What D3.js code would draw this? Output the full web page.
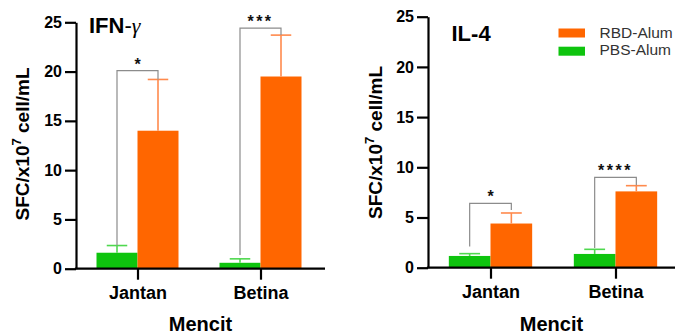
<!DOCTYPE html>
<html>
<head>
<meta charset="utf-8">
<script src="https://cdn.jsdelivr.net/npm/d3@7"></script>
<style>
  html, body { margin: 0; padding: 0; background: #fff; }
  svg { display: block; }
  text { font-family: "Liberation Sans", Arial, sans-serif; }
</style>
</head>
<body>
<svg id="chart" width="675" height="334"></svg>
<script>
// Groups and series
const categories = ["Jantan", "Betina"];
const seriesNames = ["PBS-Alum", "RBD-Alum"];
const yTicks = [0, 5, 10, 15, 20, 25];

// IFN-γ panel: means and upper error (mean + SD)
const ifnMean = { "PBS-Alum": [1.62, 0.6], "RBD-Alum": [14.0, 19.5] };
const ifnUpper = { "PBS-Alum": [2.35, 1.0], "RBD-Alum": [19.2, 23.7] };
// significance: [category, bracket value, left end, right end, label]
const ifnSig = [
  ["Jantan", 20.1, 2.35, 19.2, "*"],
  ["Betina", 24.4, 1.4, 23.7, "***"]
];

// IL-4 panel
const il4Mean = { "PBS-Alum": [1.17, 1.37], "RBD-Alum": [4.4, 7.6] };
const il4Upper = { "PBS-Alum": [1.4, 1.83], "RBD-Alum": [5.45, 8.17] };
const il4Sig = [
  ["Jantan", 6.4, 2.1, 5.75, "*"],
  ["Betina", 9.0, 1.95, 8.2, "****"]
];

const colors = { "PBS-Alum": "#0ec40e", "RBD-Alum": "#ff6600" };
const errColors = { "PBS-Alum": "#4fd84f", "RBD-Alum": "#ff8a4d" };

const svg = d3.select("#chart");

function panel(opts) {
  const { x0, xEnd, step, yBottom, yTop, mean, upper, sig, titleX, titleY, titleParts, labelX, labelY } = opts;
  const g = svg.append("g");

  const y = d3.scaleLinear().domain([0, 25]).range([yBottom, yTop]);
  const x = d3.scalePoint().domain(categories).range([x0, x0 + 2 * step]).padding(0.5);
  const barW = step / 3;
  const inner = d3.scaleBand().domain(seriesNames).range([-barW, barW]);

  // bars
  seriesNames.forEach(s => {
    categories.forEach((c, i) => {
      const v = mean[s][i];
      const bx = x(c) + inner(s);
      g.append("rect")
        .attr("x", bx).attr("width", inner.bandwidth())
        .attr("y", y(v)).attr("height", y(0) - y(v))
        .attr("fill", colors[s]);
      // upper error bar
      const cx = bx + inner.bandwidth() / 2;
      const u = upper[s][i];
      g.append("line").attr("x1", cx).attr("x2", cx)
        .attr("y1", y(v)).attr("y2", y(u))
        .attr("stroke", errColors[s]).attr("stroke-width", 1.6);
      g.append("line").attr("x1", cx - barW / 4).attr("x2", cx + barW / 4)
        .attr("y1", y(u)).attr("y2", y(u))
        .attr("stroke", errColors[s]).attr("stroke-width", 1.6);
    });
  });

  // significance brackets
  sig.forEach(([c, top, l, r, label]) => {
    const lx = x(c) + inner("PBS-Alum") + inner.bandwidth() / 2;
    const rx = x(c) + inner("RBD-Alum") + inner.bandwidth() / 2;
    g.append("path")
      .attr("d", `M${lx},${y(l)}V${y(top)}H${rx}V${y(r)}`)
      .attr("fill", "none").attr("stroke", "#8c8c8c").attr("stroke-width", 1.2);
    g.append("text")
      .attr("x", (lx + rx) / 2).attr("y", y(top) - 1)
      .attr("text-anchor", "middle")
      .attr("font-size", 16).attr("font-weight", "bold")
      .attr("letter-spacing", label.length > 1 ? 2.5 : 0)
      .attr("fill", "#111")
      .text(label);
  });

  // y axis
  const ya = g.append("g").attr("transform", `translate(${x0},0)`)
    .call(d3.axisLeft(y).tickValues(yTicks).tickSize(11).tickSizeOuter(0).tickPadding(3));
  ya.selectAll("path, line").attr("stroke", "#000").attr("stroke-width", 2.2);
  ya.selectAll("text").attr("font-size", 16).attr("font-weight", "bold")
    .attr("font-family", "Liberation Sans, Arial, sans-serif").attr("fill", "#000");

  // x axis
  const xa = g.append("g").attr("transform", `translate(0,${yBottom})`)
    .call(d3.axisBottom(x).tickSize(11).tickSizeOuter(0));
  xa.select(".domain").remove();
  xa.selectAll("line").attr("stroke", "#000").attr("stroke-width", 2.2);
  xa.selectAll("text").attr("font-size", 18).attr("font-weight", "bold")
    .attr("font-family", "Liberation Sans, Arial, sans-serif").attr("fill", "#000")
    .attr("dy", null).attr("y", 30.5);
  g.append("line").attr("x1", x0 - 1.1).attr("x2", xEnd)
    .attr("y1", yBottom).attr("y2", yBottom)
    .attr("stroke", "#000").attr("stroke-width", 2.2);

  // axis titles
  g.append("text")
    .attr("x", (x0 + xEnd) / 2).attr("y", 331)
    .attr("text-anchor", "middle").attr("font-size", 20).attr("font-weight", "bold")
    .text("Mencit");

  const yl = g.append("text")
    .attr("transform", `translate(${labelX},${labelY}) rotate(-90)`)
    .attr("text-anchor", "middle").attr("font-size", 19).attr("font-weight", "bold");
  yl.append("tspan").text("SFC/x10");
  yl.append("tspan").attr("font-size", 13).attr("dy", -8).text("7");
  yl.append("tspan").attr("dy", 8).text(" cell/mL");

  // panel title
  const t = g.append("text").attr("x", titleX).attr("y", titleY).attr("font-size", 22);
  titleParts.forEach(p => {
    t.append("tspan").attr("font-weight", p.bold ? "bold" : "normal")
      .attr("font-family", p.serif ? "Liberation Serif, serif" : null)
      .attr("font-style", p.italic ? "italic" : null)
      .text(p.text);
  });
}

panel({
  x0: 76, xEnd: 325, step: 123, yBottom: 268.7, yTop: 22.3,
  mean: ifnMean, upper: ifnUpper, sig: ifnSig,
  titleX: 89, titleY: 32.5,
  titleParts: [{ text: "IFN", bold: true }, { text: "-", bold: false }, { text: "γ", serif: true, italic: true }],
  labelX: 28.5, labelY: 144
});

panel({
  x0: 428, xEnd: 675, step: 125, yBottom: 267.7, yTop: 16.7,
  mean: il4Mean, upper: il4Upper, sig: il4Sig,
  titleX: 451.5, titleY: 40.7,
  titleParts: [{ text: "IL-4", bold: true }],
  labelX: 381.5, labelY: 142.5
});

// legend (top series listed first)
const legendOrder = ["RBD-Alum", "PBS-Alum"];
const lg = svg.append("g");
legendOrder.forEach((s, i) => {
  lg.append("rect").attr("x", 558.5).attr("y", 28.5 + i * 18.2)
    .attr("width", 26.5).attr("height", 9).attr("fill", colors[s]);
  lg.append("text").attr("x", 599.5).attr("y", 38 + i * 17)
    .attr("font-size", 15.5).attr("fill", "#333").text(s);
});
</script>
</body>
</html>
